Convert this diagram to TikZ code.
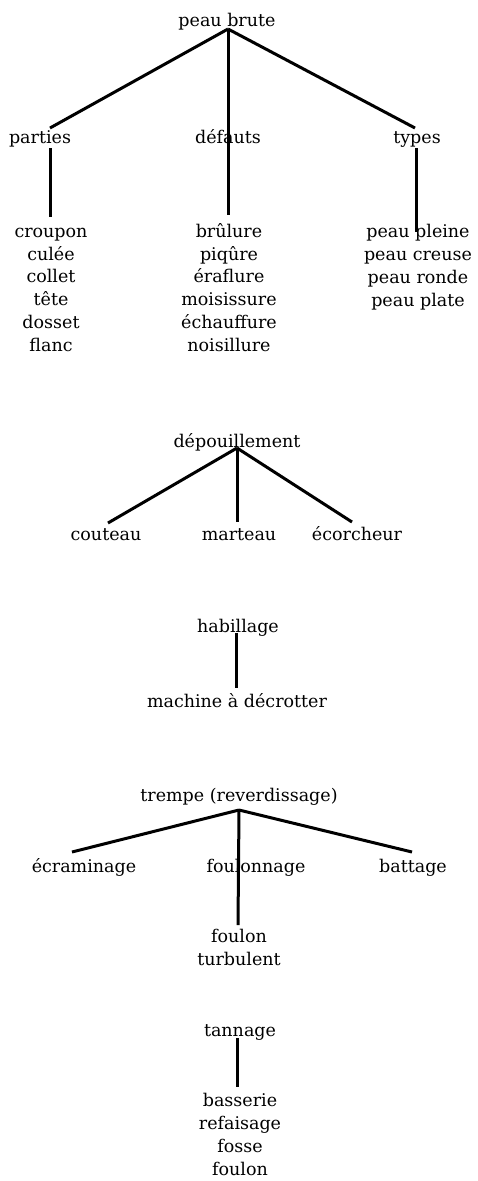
\documentclass[tikz,border=0pt]{standalone}
\usepackage{fontspec}
\setmainfont{DejaVu Serif}
\begin{document}
\begin{tikzpicture}[x=1pt,y=-1pt,
  lbl/.style={inner sep=0pt, anchor=base, font=\fontsize{17.5}{22.7}\selectfont, align=center},
  edge/.style={line width=3pt}]
\useasboundingbox[fill=white] (0,0) rectangle (477,1181);
% tree 1 (multi-line nodes: base = baseline of last line)
\node[lbl] (peau) at (227,26) {peau brute};
\node[lbl] (parties) at (40,143) {parties};
\node[lbl] (defauts) at (228,143) {défauts};
\node[lbl] (types) at (417,143) {types};
\node[lbl] (lparties) at (51,351) {croupon\\culée\\collet\\tête\\dosset\\flanc};
\node[lbl] (ldefauts) at (229,351) {brûlure\\piqûre\\éraflure\\moisissure\\échauffure\\noisillure};
\node[lbl] (ltypes) at (418,306) {peau pleine\\peau creuse\\peau ronde\\peau plate};
\coordinate (f1) at (228,29);
\coordinate (pa1) at (50,128);
\coordinate (ty1) at (415,128);
\coordinate (de1) at (228,215);
\coordinate (pa2) at (50,148);
\coordinate (pa3) at (50,217);
\coordinate (ty2) at (416,148);
\coordinate (ty3) at (416,232);
\draw[edge] (f1) -- (pa1);
\draw[edge] (f1) -- (ty1);
\draw[edge] (f1) -- (de1);
\draw[edge] (pa2) -- (pa3);
\draw[edge] (ty2) -- (ty3);
% tree 2
\node[lbl] (depo) at (237,447) {dépouillement};
\node[lbl] (cout) at (106,540) {couteau};
\node[lbl] (mart) at (239,540) {marteau};
\node[lbl] (ecor) at (357,540) {écorcheur};
\coordinate (f2) at (237,448);
\coordinate (co1) at (108,523);
\coordinate (ma1) at (237,522);
\coordinate (ec1) at (352,522);
\draw[edge] (f2) -- (co1);
\draw[edge] (f2) -- (ma1);
\draw[edge] (f2) -- (ec1);
% tree 3
\node[lbl] (habi) at (238,632) {habillage};
\node[lbl] (mach) at (237,707) {machine à décrotter};
\coordinate (h1) at (236,633);
\coordinate (h2) at (236,688);
\draw[edge] (h1) -- (h2);
% tree 4
\node[lbl] (trem) at (239,801) {trempe (reverdissage)};
\node[lbl] (ecra) at (84,872) {écraminage};
\node[lbl] (foul) at (256,872) {foulonnage};
\node[lbl] (batt) at (413,872) {battage};
\node[lbl] (lfoul) at (239,965) {foulon\\turbulent};
\coordinate (f4) at (239,810);
\coordinate (er1) at (72,852);
\coordinate (ba1) at (412,852);
\coordinate (fo1) at (238,925);
\draw[edge] (f4) -- (er1);
\draw[edge] (f4) -- (ba1);
\draw[edge] (f4) -- (fo1);
% tree 5
\node[lbl] (tann) at (240,1036) {tannage};
\node[lbl] (ltann) at (240,1175) {basserie\\refaisage\\fosse\\foulon};
\coordinate (t1) at (237,1038);
\coordinate (t2) at (237,1087);
\draw[edge] (t1) -- (t2);
\end{tikzpicture}
\end{document}
